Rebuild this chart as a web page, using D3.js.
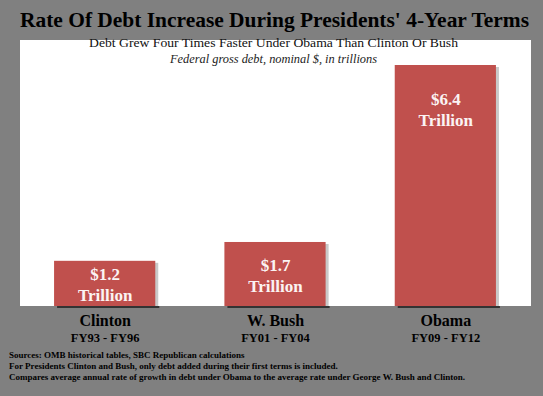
<!DOCTYPE html>
<html>
<head>
<meta charset="utf-8">
<script src="https://cdn.jsdelivr.net/npm/d3@7"></script>
<style>
  html, body { margin: 0; padding: 0; background: #808080; }
  svg { display: block; }
  text { font-family: "Liberation Serif", "Times New Roman", serif; }
</style>
</head>
<body>
<div id="chart"></div>
<script>
// chart data
var presidents = ["Clinton", "W. Bush", "Obama"];
var terms = ["FY93 - FY96", "FY01 - FY04", "FY09 - FY12"];
var debtAdded = [1.2, 1.7, 6.4];
var valueLabels = ["$1.2", "$1.7", "$6.4"];
var notes = [
    "Sources: OMB historical tables, SBC Republican calculations",
    "For Presidents Clinton and Bush, only debt added during their first terms is included.",
    "Compares average annual rate of growth in debt under Obama to the average rate under George W. Bush and Clinton."
];

var width = 543,
    height = 396;

var plot = { left: 20, right: 531, top: 40, bottom: 306 };

var svg = d3.select("#chart").append("svg")
    .attr("width", width)
    .attr("height", height);

svg.append("rect")
    .attr("width", width)
    .attr("height", height)
    .attr("fill", "#808080");

// white plot area
svg.append("rect")
    .attr("x", plot.left)
    .attr("y", plot.top)
    .attr("width", plot.right - plot.left)
    .attr("height", plot.bottom - plot.top)
    .attr("fill", "#ffffff");

var x = d3.scaleBand()
    .domain(presidents)
    .range([plot.left, plot.right])
    .paddingInner(0.4)
    .paddingOuter(0.2);

var y = d3.scaleLinear()
    .domain([0, 6.4])
    .range([plot.bottom, 65]);

// title block
svg.append("text")
    .attr("x", 20)
    .attr("y", 27)
    .attr("textLength", 509)
    .attr("lengthAdjust", "spacingAndGlyphs")
    .attr("font-size", 22)
    .attr("font-weight", "bold")
    .attr("fill", "#000")
    .text("Rate Of Debt Increase During Presidents' 4-Year Terms");

svg.append("text")
    .attr("x", 89)
    .attr("y", 47)
    .attr("textLength", 369)
    .attr("lengthAdjust", "spacingAndGlyphs")
    .attr("font-size", 12.5)
    .attr("fill", "#111")
    .text("Debt Grew Four Times Faster Under Obama Than Clinton Or Bush");

svg.append("text")
    .attr("x", 170)
    .attr("y", 63)
    .attr("textLength", 207)
    .attr("lengthAdjust", "spacingAndGlyphs")
    .attr("font-size", 11.5)
    .attr("font-style", "italic")
    .attr("fill", "#222")
    .text("Federal gross debt, nominal $, in trillions");

var bars = svg.append("g").selectAll("g")
    .data(debtAdded)
    .enter().append("g");

// soft shadow on the right of each bar
bars.append("rect")
    .attr("x", function(d, i) { return x(presidents[i]) + 2; })
    .attr("y", function(d) { return y(d) + 2; })
    .attr("width", x.bandwidth())
    .attr("height", function(d) { return y(0) - y(d) - 2; })
    .attr("fill", "#c9c9c9");

bars.append("rect")
    .attr("x", function(d, i) { return x(presidents[i]); })
    .attr("y", function(d) { return y(d); })
    .attr("width", x.bandwidth() - 1)
    .attr("height", function(d) { return y(0) - y(d); })
    .attr("fill", "#c0504d");

// dark line under each bar
bars.append("line")
    .attr("x1", function(d, i) { return x(presidents[i]) + 3; })
    .attr("x2", function(d, i) { return x(presidents[i]) + x.bandwidth() + 3; })
    .attr("y1", plot.bottom + 1)
    .attr("y2", plot.bottom + 1)
    .attr("stroke", "#1a1a1a")
    .attr("stroke-width", 1.5);

function labelTop(d) {
    var h = y(0) - y(d);
    return y(d) + Math.min(40, h / 2 - 3);
}

bars.append("text")
    .attr("x", function(d, i) { return x(presidents[i]) + x.bandwidth() / 2; })
    .attr("y", function(d) { return labelTop(d); })
    .attr("text-anchor", "middle")
    .attr("font-size", 17)
    .attr("font-weight", "bold")
    .attr("fill", "#fbf3f3")
    .text(function(d, i) { return valueLabels[i]; });

bars.append("text")
    .attr("x", function(d, i) { return x(presidents[i]) + x.bandwidth() / 2; })
    .attr("y", function(d) { return labelTop(d) + 21; })
    .attr("text-anchor", "middle")
    .attr("font-size", 17)
    .attr("font-weight", "bold")
    .attr("fill", "#fbf3f3")
    .text("Trillion");

// category labels
var cats = svg.append("g").selectAll("g")
    .data(presidents)
    .enter().append("g")
    .attr("transform", function(d) { return "translate(" + (x(d) + x.bandwidth() / 2) + ",0)"; });

cats.append("text")
    .attr("y", 326)
    .attr("text-anchor", "middle")
    .attr("font-size", 16)
    .attr("font-weight", "bold")
    .attr("fill", "#000")
    .text(function(d) { return d; });

cats.append("text")
    .attr("y", 342)
    .attr("text-anchor", "middle")
    .attr("font-size", 12.5)
    .attr("font-weight", "bold")
    .attr("fill", "#000")
    .text(function(d, i) { return terms[i]; });

// notes
svg.append("g").selectAll("text")
    .data(notes)
    .enter().append("text")
    .attr("x", 9)
    .attr("y", function(d, i) { return 358 + i * 11; })
    .attr("font-size", 9)
    .attr("font-weight", "bold")
    .attr("fill", "#000")
    .text(function(d) { return d; });
</script>
</body>
</html>
